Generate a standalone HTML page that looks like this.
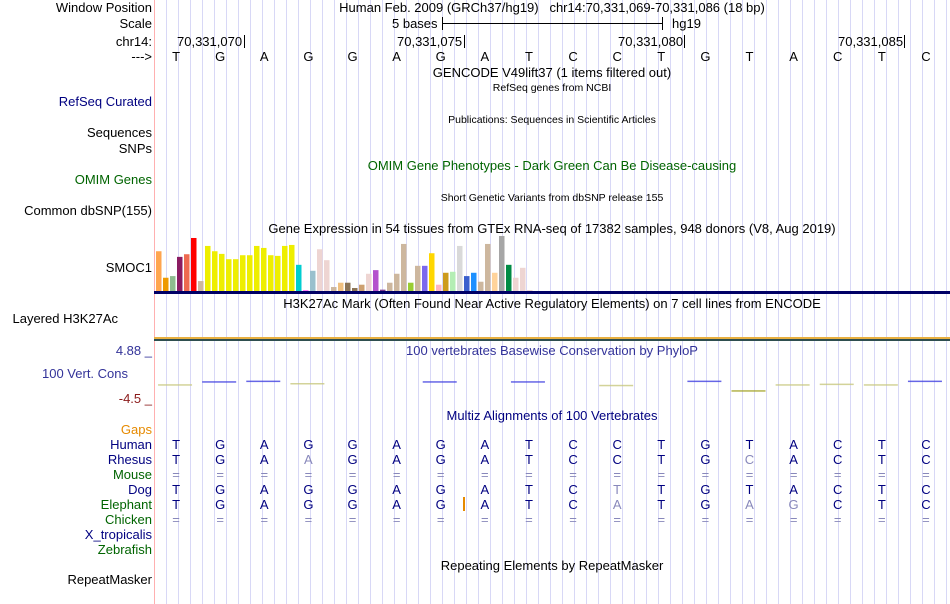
<!DOCTYPE html>
<html><head><meta charset="utf-8">
<style>
body{margin:0;width:950px;height:604px;overflow:hidden;background:#fff;font-family:"Liberation Sans",Arial,sans-serif;}
#root{position:relative;width:950px;height:604px;}
.t{position:absolute;font-size:13px;white-space:nowrap;line-height:14px;}
.lbl{position:absolute;right:798px;font-size:13px;white-space:nowrap;line-height:14px;text-align:right;}
.c{position:absolute;font-size:13px;white-space:nowrap;line-height:14px;transform:translateX(-50%);}
.s{font-size:10.5px;}
</style></head><body>
<div id="root">
<svg id="grid" width="950" height="604" style="position:absolute;left:0;top:0"></svg>

<div class="lbl" style="top:1px">Window Position</div>
<div class="lbl" style="top:17px">Scale</div>
<div class="lbl" style="top:35px">chr14:</div>
<div class="lbl" style="top:50px">---&gt;</div>
<div class="c" style="left:552px;top:1px">Human Feb. 2009 (GRCh37/hg19)&nbsp;&nbsp;&nbsp;chr14:70,331,069-70,331,086 (18 bp)</div>
<div class="t" style="left:392px;top:17px">5 bases</div>
<div class="t" style="left:672px;top:17px">hg19</div>
<div class="t" style="left:177px;top:35px">70,331,070</div>
<div class="t" style="left:397px;top:35px">70,331,075</div>
<div class="t" style="left:618px;top:35px">70,331,080</div>
<div class="t" style="left:838px;top:35px">70,331,085</div>

<div class="c" style="left:552px;top:66px">GENCODE V49lift37 (1 items filtered out)</div>
<div class="c s" style="left:552px;top:81px">RefSeq genes from NCBI</div>
<div class="lbl" style="top:95px;color:#000080">RefSeq Curated</div>
<div class="c s" style="left:552px;top:113px">Publications: Sequences in Scientific Articles</div>
<div class="lbl" style="top:126px">Sequences</div>
<div class="lbl" style="top:142px">SNPs</div>
<div class="c" style="left:552px;top:159px;color:#006400">OMIM Gene Phenotypes - Dark Green Can Be Disease-causing</div>
<div class="lbl" style="top:173px;color:#006400">OMIM Genes</div>
<div class="c s" style="left:552px;top:191px">Short Genetic Variants from dbSNP release 155</div>
<div class="lbl" style="top:204px">Common dbSNP(155)</div>
<div class="c" style="left:552px;top:222px">Gene Expression in 54 tissues from GTEx RNA-seq of 17382 samples, 948 donors (V8, Aug 2019)</div>
<div class="lbl" style="top:261px">SMOC1</div>
<div class="c" style="left:552px;top:297px">H3K27Ac Mark (Often Found Near Active Regulatory Elements) on 7 cell lines from ENCODE</div>
<div class="lbl" style="top:312px;right:832px">Layered H3K27Ac</div>
<div class="lbl" style="top:344px;color:#333399">4.88 _</div>
<div class="c" style="left:552px;top:344px;color:#333399">100 vertebrates Basewise Conservation by PhyloP</div>
<div class="lbl" style="top:367px;right:822px;color:#333399">100 Vert. Cons</div>
<div class="lbl" style="top:392px;color:#8b1a1a">-4.5 _</div>
<div class="c" style="left:552px;top:409px;color:#000080">Multiz Alignments of 100 Vertebrates</div>
<div class="lbl" style="top:423px;color:#e68a00">Gaps</div>
<div class="lbl" style="top:438px;color:#000080">Human</div>
<div class="lbl" style="top:453px;color:#000080">Rhesus</div>
<div class="lbl" style="top:468px;color:#006400">Mouse</div>
<div class="lbl" style="top:483px;color:#000080">Dog</div>
<div class="lbl" style="top:498px;color:#006400">Elephant</div>
<div class="lbl" style="top:513px;color:#006400">Chicken</div>
<div class="lbl" style="top:528px;color:#000080">X_tropicalis</div>
<div class="lbl" style="top:543px;color:#006400">Zebrafish</div>
<div class="c" style="left:552px;top:559px">Repeating Elements by RepeatMasker</div>
<div class="lbl" style="top:573px">RepeatMasker</div>
</div>
<script>
const gtexValues=[120,40,45,103,111,160,30,136,120,112,96,96,108,108,136,130,108,106,136,139,79,3,61,126,93,12,25,25,9,19,52,63,4,25,52,142,25,76,76,114,19,55,58,136,45,55,28,142,55,166,79,40,70,3];
const gtexColors=["#FFA54F","#EE9A00","#8FBC8F","#8B1C62","#EE6A50","#FF0000","#CDB79E","#EEEE00","#EEEE00","#EEEE00","#EEEE00","#EEEE00","#EEEE00","#EEEE00","#EEEE00","#EEEE00","#EEEE00","#EEEE00","#EEEE00","#EEEE00","#00CED1","#FF80FF","#9AC0CD","#EED5D2","#EED5D2","#CDB79E","#F0C080","#8B7355","#8B7355","#CDA070","#EED5D2","#B452CD","#7A378B","#CDB79E","#CDB79E","#CDB79E","#9ACD32","#CDB79E","#7B68EE","#FFD700","#FFB6C1","#CD9B1D","#B4EEB4","#D9D9D9","#3A5FCD","#1E90FF","#CDB79E","#CDB79E","#FFD39B","#A6A6A6","#008B45","#EED5D2","#EED5D2","#EED5D2"];
const refBases=["T","G","A","G","G","A","G","A","T","C","C","T","G","T","A","C","T","C"];
const rhesus =["T","G","A","a","G","A","G","A","T","C","C","T","G","c","A","C","T","C"];
const dog    =["T","G","A","G","G","A","G","A","T","C","t","T","G","T","A","C","T","C"];
const elephant=["T","G","A","G","G","A","G","A","T","C","a","T","G","a","g","C","T","C"];
const phylop=[-0.2,0.3,0.4,0,null,null,0.3,null,0.3,null,-0.3,null,0.4,-1.2,-0.2,-0.1,-0.2,0.4];

const NS="http://www.w3.org/2000/svg";
const svg=document.getElementById('grid');
const x0=154,x1=948,nb=18,bw=(x1-x0)/nb;
const bx=i=>x0+bw*(i+0.5);
function mk(tag,attrs){const e=document.createElementNS(NS,tag);for(const k in attrs)e.setAttribute(k,attrs[k]);svg.appendChild(e);return e;}
for(let x=166;x<950;x+=12){const l=mk('line',{x1:x+0.5,x2:x+0.5,y1:0,y2:604,stroke:'#d8d8f6','stroke-width':1});

}
const rl=mk('line',{x1:154.5,x2:154.5,y1:0,y2:604,stroke:'#ffb0b0'});


mk('line',{x1:442.5,x2:662.5,y1:23.5,y2:23.5,stroke:'#000'});
mk('line',{x1:442.5,x2:442.5,y1:17,y2:30,stroke:'#000'});
mk('line',{x1:662.5,x2:662.5,y1:17,y2:30,stroke:'#000'});
[244,464,684,904].forEach(x=>{const t=mk('line',{x1:x+0.5,x2:x+0.5,y1:35,y2:48,stroke:'#000'});

});
const gBase=291,gScale=55/166;
gtexValues.forEach((v,i)=>{const h=Math.max(1,v*gScale);const r=mk('rect',{x:156+i*7,y:gBase-h,width:5.5,height:h,fill:gtexColors[i]});

});
mk('rect',{x:154,y:291,width:796,height:3,fill:'#000066'});
mk('rect',{x:154,y:337,width:796,height:2,fill:'#e8b040'});
mk('rect',{x:154,y:339,width:796,height:2,fill:'#2f4f4f'});
const pMid=383;
phylop.forEach((v,i)=>{if(v===null)return;const cx=bx(i),y=pMid-v*6;
const col=v>0?'#4040e0':(v<-0.5?'#a0a020':'#c8c880');
const l=mk('rect',{x:cx-18,y:y,width:34,height:1.5,fill:col,opacity:0.8});

});
mk('rect',{x:463,y:497,width:2,height:14,fill:'#e68a00'});
const root=document.getElementById('root');
function row(arr,top,name,col,dim){arr.forEach((b,i)=>{const d=document.createElement('div');d.className='c';d.style.left=bx(i)+'px';d.style.top=top+'px';
const low=b!==b.toUpperCase()||b==='=';d.textContent=b.toUpperCase();d.style.color=low?dim:col;


root.appendChild(d);});}
row(refBases,50,'reference-base','#000','#000');
row(refBases,438,'human-base','#000080','#8888bb');
row(rhesus,453,'rhesus-base','#000080','#8888bb');
row(refBases.map(()=>'='),468,'mouse-base','#000080','#8888bb');
row(dog,483,'dog-base','#000080','#8888bb');
row(elephant,498,'elephant-base','#000080','#8888bb');
row(refBases.map(()=>'='),513,'chicken-base','#000080','#8888bb');
</script>
</body></html>
